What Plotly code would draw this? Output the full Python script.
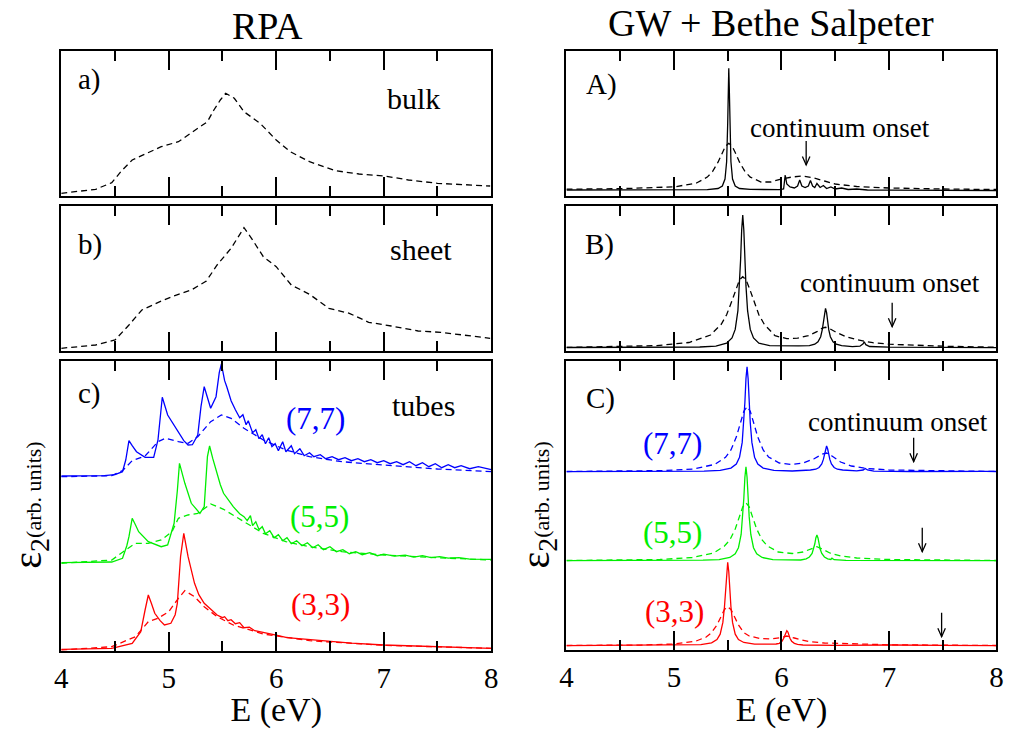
import plotly.graph_objects as go

W, H = 1013, 729
FONT = "Liberation Serif, Times New Roman, Times, DejaVu Serif, serif"
BLUE, GREEN, RED, BLACK = "#0000ff", "#00ee00", "#ff0000", "#000000"

# ---------------- data (E in eV, eps2 in arbitrary units, stacked as drawn) -------------
# RPA bulk (dashed)
bulk_E = [4.0, 4.32, 4.47, 4.56, 4.66, 4.78, 4.93, 5.09, 5.18, 5.36, 5.42, 5.48, 5.53, 5.61, 5.70,
          5.85, 6.00, 6.13, 6.31, 6.55, 6.77, 7.01, 7.23, 7.50, 7.99]
bulk_y = [0.027, 0.067, 0.133, 0.25, 0.36, 0.42, 0.493, 0.543, 0.61, 0.743, 0.86, 0.96, 1.027, 0.977,
          0.843, 0.727, 0.56, 0.443, 0.343, 0.253, 0.22, 0.20, 0.16, 0.127, 0.10]
# RPA sheet (dashed)
sheet_E = [4.0, 4.32, 4.50, 4.63, 4.75, 4.93, 5.09, 5.21, 5.35, 5.45, 5.58, 5.70, 5.77, 5.88, 6.00,
           6.14, 6.31, 6.49, 6.68, 6.86, 7.07, 7.32, 7.53, 7.78, 7.99]
sheet_y = [0.024, 0.057, 0.107, 0.257, 0.407, 0.497, 0.564, 0.607, 0.697, 0.857, 1.024, 1.23, 1.124,
           0.94, 0.84, 0.657, 0.564, 0.424, 0.374, 0.284, 0.247, 0.197, 0.184, 0.15, 0.124]

# RPA tubes, solid = with local fields, dashed = without
t77_E = [4.00, 4.40, 4.50, 4.57, 4.60, 4.63, 4.66, 4.70, 4.78, 4.86, 4.90, 4.94, 4.99, 5.05, 5.09,
         5.14, 5.18, 5.22, 5.27, 5.30, 5.33, 5.36, 5.39, 5.44, 5.47, 5.49, 5.52, 5.54, 5.58, 5.62,
         5.66, 5.69, 5.72, 5.74, 5.78, 5.81, 5.84, 5.87, 5.90, 5.93, 5.96, 5.99, 6.02, 6.06, 6.09,
         6.14, 6.17, 6.22, 6.26, 6.31, 6.35, 6.41, 6.46, 6.52, 6.58, 6.64, 6.70, 6.76, 6.82, 6.88,
         6.94, 7.00, 7.06, 7.12, 7.18, 7.24, 7.30, 7.36, 7.42, 7.48, 7.54, 7.60, 7.66, 7.72, 7.80,
         7.88, 8.00]
t77_y = [1.747, 1.750, 1.760, 1.79, 1.907, 2.10, 2.05, 1.99, 1.934, 1.934, 2.107, 2.534, 2.357, 2.25,
         2.19, 2.10, 2.057, 2.06, 2.157, 2.44, 2.64, 2.52, 2.424, 2.54, 2.78, 2.867, 2.70, 2.64, 2.50,
         2.41, 2.33, 2.36, 2.26, 2.30, 2.18, 2.21, 2.12, 2.16, 2.07, 2.13, 2.04, 2.07, 2.00, 2.09,
         1.99, 2.05, 1.97, 2.02, 1.95, 1.98, 1.94, 1.96, 1.92, 1.94, 1.91, 1.93, 1.90, 1.92, 1.89,
         1.91, 1.88, 1.90, 1.87, 1.89, 1.86, 1.89, 1.85, 1.88, 1.84, 1.87, 1.83, 1.86, 1.83, 1.85,
         1.82, 1.84, 1.81]
t77d_E = [4.0, 4.47, 4.57, 4.66, 4.78, 4.90, 4.97, 5.09, 5.18, 5.27, 5.39, 5.49, 5.58, 5.70, 5.88,
          6.09, 6.31, 6.61, 7.0, 7.5, 8.0]
t77d_y = [1.74, 1.75, 1.80, 1.90, 1.947, 2.09, 2.124, 2.09, 2.074, 2.14, 2.29, 2.357, 2.324, 2.224,
          2.107, 2.007, 1.94, 1.89, 1.857, 1.817, 1.79]

t55_E = [4.0, 4.47, 4.57, 4.61, 4.63, 4.66, 4.69, 4.72, 4.81, 4.93, 4.99, 5.05, 5.08, 5.10, 5.15,
         5.21, 5.29, 5.33, 5.36, 5.38, 5.41, 5.44, 5.48, 5.51, 5.55, 5.58, 5.60, 5.63, 5.66, 5.70,
         5.73, 5.76, 5.78, 5.81, 5.84, 5.87, 5.90, 5.94, 5.98, 6.02, 6.06, 6.10, 6.14, 6.19, 6.24,
         6.29, 6.34, 6.39, 6.44, 6.50, 6.56, 6.62, 6.68, 6.74, 6.80, 6.87, 6.94, 7.00, 7.10, 7.20,
         7.28, 7.36, 7.44, 7.52, 7.60, 7.70, 7.80, 8.00]
t55_y = [0.88, 0.887, 0.924, 1.05, 1.14, 1.324, 1.26, 1.19, 1.09, 1.04, 1.057, 1.274, 1.60, 1.874,
         1.674, 1.474, 1.374, 1.44, 1.94, 2.047, 1.92, 1.807, 1.66, 1.574, 1.52, 1.47, 1.44, 1.40,
         1.37, 1.34, 1.30, 1.35, 1.25, 1.29, 1.21, 1.24, 1.17, 1.20, 1.13, 1.16, 1.10, 1.13, 1.07,
         1.10, 1.05, 1.08, 1.03, 1.06, 1.01, 1.04, 0.99, 1.01, 0.97, 0.99, 0.96, 0.98, 0.95, 0.965,
         0.945, 0.955, 0.935, 0.95, 0.93, 0.94, 0.925, 0.93, 0.915, 0.914]
t55d_E = [4.0, 4.47, 4.60, 4.69, 4.81, 4.93, 5.03, 5.09, 5.18, 5.27, 5.39, 5.51, 5.70, 5.88, 6.09,
          6.31, 6.61, 7.0, 7.5, 8.0]
t55d_y = [0.874, 0.907, 1.007, 1.074, 1.074, 1.107, 1.19, 1.324, 1.357, 1.374, 1.467, 1.414, 1.29,
          1.174, 1.09, 1.04, 0.99, 0.957, 0.93, 0.907]

t33_E = [4.0, 4.47, 4.66, 4.74, 4.78, 4.81, 4.84, 4.87, 4.92, 4.96, 5.02, 5.06, 5.08, 5.11, 5.14,
         5.18, 5.24, 5.28, 5.33, 5.39, 5.45, 5.50, 5.52, 5.55, 5.58, 5.62, 5.66, 5.70, 5.75, 5.80,
         5.88, 5.94, 6.00, 6.10, 6.20, 6.31, 6.50, 6.70, 7.00, 7.50, 8.00]
t33_y = [0.014, 0.024, 0.074, 0.19, 0.407, 0.557, 0.47, 0.374, 0.30, 0.257, 0.274, 0.36, 0.474, 0.94,
         1.174, 0.94, 0.674, 0.56, 0.474, 0.42, 0.357, 0.33, 0.34, 0.30, 0.31, 0.27, 0.28, 0.23, 0.235,
         0.20, 0.185, 0.17, 0.155, 0.13, 0.12, 0.107, 0.09, 0.075, 0.057, 0.04, 0.024]
t33d_E = [4.0, 4.47, 4.69, 4.81, 4.90, 5.0, 5.09, 5.15, 5.24, 5.33, 5.45, 5.6, 5.88, 6.31, 7.0, 8.0]
t33d_y = [0.007, 0.04, 0.14, 0.29, 0.324, 0.39, 0.524, 0.60, 0.54, 0.44, 0.34, 0.257, 0.167, 0.10,
          0.054, 0.024]

# GW + Bethe-Salpeter bulk (A)
A_E = [4.0, 5.0, 5.31, 5.41, 5.45, 5.475, 5.49, 5.50, 5.505, 5.51, 5.515, 5.52, 5.53, 5.545, 5.57,
       5.61, 5.71, 5.98, 6.02, 6.035, 6.05, 6.08, 6.12, 6.15, 6.17, 6.19, 6.22, 6.25, 6.27, 6.29,
       6.31, 6.33, 6.36, 6.39, 6.42, 6.46, 6.5, 6.56, 6.62, 6.7, 6.8, 7.0, 8.0]
A_y = [0.06, 0.062, 0.064, 0.075, 0.10, 0.17, 0.343, 0.726, 1.069, 1.277, 1.069, 0.726, 0.343, 0.17,
       0.10, 0.075, 0.066, 0.064, 0.07, 0.21, 0.12, 0.09, 0.08, 0.10, 0.16, 0.10, 0.085, 0.10, 0.155,
       0.10, 0.085, 0.125, 0.085, 0.105, 0.075, 0.09, 0.07, 0.08, 0.065, 0.07, 0.06, 0.058, 0.055]
Ad_E = [4.0, 4.5, 5.01, 5.21, 5.31, 5.36, 5.41, 5.45, 5.48, 5.51, 5.54, 5.57, 5.61, 5.66, 5.71,
        5.81, 5.9, 6.0, 6.1, 6.2, 6.3, 6.4, 6.5, 6.7, 7.0, 7.5, 8.0]
Ad_y = [0.068, 0.073, 0.092, 0.13, 0.189, 0.246, 0.338, 0.435, 0.50, 0.527, 0.50, 0.435, 0.338,
        0.246, 0.189, 0.14, 0.14, 0.17, 0.19, 0.20, 0.18, 0.15, 0.12, 0.095, 0.08, 0.07, 0.065]

# sheet (B)
B_E = [4.0, 4.8, 5.24, 5.39, 5.49, 5.54, 5.57, 5.595, 5.61, 5.62, 5.63, 5.64, 5.65, 5.66, 5.67,
       5.685, 5.71, 5.74, 5.79, 5.89, 6.04, 6.16, 6.26, 6.31, 6.34, 6.365, 6.38, 6.39, 6.40, 6.41,
       6.42, 6.43, 6.44, 6.455, 6.48, 6.51, 6.56, 6.66, 6.73, 6.76, 6.77, 6.785, 6.82, 7.0, 8.0]
B_y = [0.032, 0.034, 0.037, 0.046, 0.075, 0.127, 0.213, 0.40, 0.648, 0.908, 1.207, 1.357, 1.207,
       0.908, 0.648, 0.40, 0.213, 0.127, 0.075, 0.05, 0.045, 0.048, 0.05, 0.065, 0.09, 0.14, 0.21,
       0.29, 0.38, 0.424, 0.38, 0.29, 0.21, 0.14, 0.09, 0.065, 0.05, 0.04, 0.045, 0.07, 0.09, 0.06,
       0.042, 0.035, 0.03]
Bd_E = [4.0, 4.44, 4.84, 5.14, 5.34, 5.44, 5.49, 5.54, 5.58, 5.61, 5.64, 5.67, 5.70, 5.74, 5.79,
        5.84, 5.94, 6.05, 6.15, 6.25, 6.33, 6.38, 6.41, 6.45, 6.5, 6.6, 6.7, 6.85, 7.0, 7.5, 8.0]
Bd_y = [0.033, 0.04, 0.051, 0.082, 0.157, 0.264, 0.36, 0.50, 0.63, 0.709, 0.74, 0.709, 0.63, 0.50,
        0.36, 0.264, 0.15, 0.12, 0.125, 0.15, 0.19, 0.225, 0.234, 0.22, 0.19, 0.14, 0.11, 0.08,
        0.065, 0.045, 0.035]

# tubes (C)
C77_E = [4.0, 5.0, 5.28, 5.43, 5.53, 5.58, 5.61, 5.635, 5.65, 5.66, 5.67, 5.68, 5.69, 5.70, 5.71,
         5.725, 5.75, 5.78, 5.83, 5.93, 6.1, 6.27, 6.32, 6.35, 6.375, 6.39, 6.40, 6.41, 6.42, 6.43,
         6.44, 6.45, 6.465, 6.49, 6.52, 6.57, 6.7, 6.76, 6.78, 6.80, 6.86, 7.2, 7.9, 8.0]
C77_y = [1.783, 1.785, 1.788, 1.796, 1.819, 1.86, 1.928, 2.076, 2.272, 2.478, 2.714, 2.833, 2.714,
         2.478, 2.272, 2.076, 1.928, 1.86, 1.819, 1.796, 1.79, 1.80, 1.808, 1.825, 1.86, 1.906,
         1.955, 2.01, 2.04, 2.01, 1.955, 1.906, 1.86, 1.825, 1.808, 1.80, 1.792, 1.80, 1.815, 1.80,
         1.788, 1.785, 1.787, 1.785]
C77d_E = [4.0, 4.88, 5.18, 5.38, 5.48, 5.53, 5.58, 5.62, 5.65, 5.68, 5.71, 5.74, 5.78, 5.83, 5.88,
          5.98, 6.1, 6.2, 6.3, 6.38, 6.42, 6.47, 6.55, 6.65, 6.8, 7.0, 7.5, 8.0]
C77d_y = [1.785, 1.794, 1.81, 1.856, 1.927, 2.0, 2.129, 2.277, 2.386, 2.433, 2.386, 2.277, 2.129,
          2.0, 1.93, 1.87, 1.855, 1.87, 1.91, 1.96, 1.97, 1.94, 1.88, 1.84, 1.815, 1.80, 1.79, 1.785]

C55_E = [4.0, 5.0, 5.27, 5.42, 5.52, 5.57, 5.60, 5.625, 5.64, 5.65, 5.66, 5.67, 5.68, 5.69, 5.70,
         5.715, 5.74, 5.77, 5.82, 5.92, 6.1, 6.18, 6.23, 6.26, 6.285, 6.30, 6.31, 6.32, 6.33, 6.34,
         6.35, 6.36, 6.375, 6.40, 6.43, 6.46, 6.47, 6.49, 6.6, 8.0]
C55_y = [0.893, 0.895, 0.898, 0.904, 0.925, 0.962, 1.023, 1.155, 1.331, 1.515, 1.727, 1.833, 1.727,
         1.515, 1.331, 1.155, 1.023, 0.962, 0.925, 0.904, 0.898, 0.90, 0.912, 0.93, 0.965, 1.01,
         1.06, 1.12, 1.15, 1.12, 1.06, 1.01, 0.965, 0.93, 0.912, 0.905, 0.918, 0.903, 0.897, 0.893]
C55d_E = [4.0, 4.87, 5.17, 5.37, 5.47, 5.52, 5.57, 5.61, 5.64, 5.67, 5.70, 5.73, 5.77, 5.82, 5.87,
          5.97, 6.1, 6.2, 6.28, 6.33, 6.38, 6.45, 6.55, 6.7, 7.0, 7.5, 8.0]
C55d_y = [0.895, 0.905, 0.925, 0.97, 1.04, 1.10, 1.21, 1.334, 1.431, 1.473, 1.431, 1.334, 1.21,
          1.10, 1.04, 0.98, 0.965, 0.98, 1.01, 1.033, 1.01, 0.97, 0.94, 0.92, 0.905, 0.897, 0.895]

C33_E = [4.0, 5.1, 5.25, 5.35, 5.40, 5.43, 5.455, 5.47, 5.48, 5.49, 5.50, 5.51, 5.52, 5.53, 5.545,
         5.57, 5.60, 5.65, 5.75, 5.9, 5.95, 5.98, 6.005, 6.02, 6.03, 6.04, 6.05, 6.06, 6.07, 6.08,
         6.095, 6.12, 6.15, 6.2, 6.5, 6.9, 6.98, 7.02, 7.5, 8.0]
C33_y = [0.043, 0.047, 0.053, 0.071, 0.104, 0.158, 0.276, 0.432, 0.595, 0.783, 0.877, 0.783, 0.595,
         0.432, 0.276, 0.158, 0.104, 0.075, 0.058, 0.056, 0.06, 0.067, 0.088, 0.115, 0.145, 0.18,
         0.193, 0.18, 0.145, 0.115, 0.088, 0.067, 0.056, 0.05, 0.046, 0.047, 0.053, 0.05, 0.046,
         0.044]
C33d_E = [4.0, 4.7, 5.0, 5.2, 5.3, 5.35, 5.40, 5.44, 5.47, 5.50, 5.53, 5.56, 5.60, 5.65, 5.70, 5.8,
          5.9, 6.0, 6.05, 6.12, 6.25, 6.4, 6.7, 7.0, 8.0]
C33d_y = [0.045, 0.05, 0.06, 0.087, 0.13, 0.174, 0.25, 0.34, 0.405, 0.433, 0.405, 0.34, 0.25, 0.174,
          0.14, 0.115, 0.11, 0.125, 0.14, 0.12, 0.085, 0.07, 0.058, 0.052, 0.045]

# continuum onsets (energy, eps2 level of the arrow tip) for panels A, B, C(7,7), C(5,5), C(3,3)
onset_E = [6.23, 7.03, 7.23, 7.31, 7.49]
onset_tip = [0.31, 0.24, 1.883, 0.983, 0.133]
onset_panel = ["A", "B", "C", "C", "C"]

tick_vals = [4, 5, 6, 7, 8]
tick_text = ["4", "5", "6", "7", "8"]

# ---------------- layout helpers (pixel boxes) ----------------
def fx(x):
    return x / W

def fy(y):
    return 1 - y / H

boxes = {  # name: (x0, x1, ytop, ybottom) in px
    "a": (55, 491, 51, 196), "b": (55, 491, 206, 350.7), "c": (55, 491, 361, 650.7),
    "A": (567.3, 1003.3, 51, 196), "B": (567.3, 1003.3, 206, 350.7), "C": (567.3, 1003.3, 361, 650),
}
order = ["a", "b", "c", "A", "B", "C"]
axid = {k: i + 1 for i, k in enumerate(order)}

fig = go.Figure()

def add(panel, xs, ys, color, dashed):
    n = axid[panel]
    fig.add_trace(go.Scatter(
        x=xs, y=ys, mode="lines", showlegend=False, hoverinfo="skip",
        line=dict(color=color, width=1.3, dash="6px,4px" if dashed else "solid"),
        xaxis="x" if n == 1 else f"x{n}", yaxis="y" if n == 1 else f"y{n}"))

add("a", bulk_E, bulk_y, BLACK, True)
add("b", sheet_E, sheet_y, BLACK, True)
add("c", t77d_E, t77d_y, BLUE, True)
add("c", t77_E, t77_y, BLUE, False)
add("c", t55d_E, t55d_y, GREEN, True)
add("c", t55_E, t55_y, GREEN, False)
add("c", t33d_E, t33d_y, RED, True)
add("c", t33_E, t33_y, RED, False)
add("A", Ad_E, Ad_y, BLACK, True)
add("A", A_E, A_y, BLACK, False)
add("B", Bd_E, Bd_y, BLACK, True)
add("B", B_E, B_y, BLACK, False)
add("C", C77d_E, C77d_y, BLUE, True)
add("C", C77_E, C77_y, BLUE, False)
add("C", C55d_E, C55d_y, GREEN, True)
add("C", C55_E, C55_y, GREEN, False)
add("C", C33d_E, C33d_y, RED, True)
add("C", C33_E, C33_y, RED, False)

layout = dict(width=W, height=H, margin=dict(l=0, r=0, t=0, b=0),
              paper_bgcolor="white", plot_bgcolor="white",
              font=dict(family=FONT, color="black"))
for k in order:
    n = axid[k]
    x0, x1, yt, yb = boxes[k]
    sfx = "" if n == 1 else str(n)
    bottom = k in ("c", "C")
    layout[f"xaxis{sfx}"] = dict(
        domain=[fx(x0), fx(x1)], range=[4, 8], anchor=f"y{sfx}",
        showline=True, linewidth=2, linecolor="black", mirror="allticks",
        ticks="inside", ticklen=19, tickwidth=1.5, tickcolor="black",
        tickvals=tick_vals, ticktext=tick_text, showticklabels=bottom,
        tickfont=dict(family=FONT, size=29, color="black"),
        minor=dict(ticks="inside", ticklen=10, tickwidth=1.5, tickcolor="black", dtick=0.5,
                   tick0=4, showgrid=False),
        showgrid=False, zeroline=False, fixedrange=True,
        title=dict(text="E (eV)", font=dict(family=FONT, size=34), standoff=5) if bottom else None,
    )
    layout[f"yaxis{sfx}"] = dict(
        domain=[fy(yb), fy(yt)], range=[0, (yb - yt) / 100.0], anchor=f"x{sfx}",
        showline=True, linewidth=2, linecolor="black", mirror=True,
        ticks="", showticklabels=False, showgrid=False, zeroline=False, fixedrange=True,
    )
fig.update_layout(**layout)

# ---------------- arrows (continuum onsets) ----------------
shapes = []
for E, tip, p in zip(onset_E, onset_tip, onset_panel):
    n = axid[p]
    xr, yr = f"x{n}", f"y{n}"
    shapes.append(dict(type="line", xref=xr, yref=yr, x0=E, x1=E, y0=tip, y1=tip + 0.24,
                       line=dict(color="black", width=1.3)))
    shapes.append(dict(type="path", xref=xr, yref=yr,
                       path=f"M {E - 0.035},{tip + 0.085} L {E},{tip} L {E + 0.035},{tip + 0.085}",
                       line=dict(color="black", width=1.3)))
fig.update_layout(shapes=shapes)

# ---------------- text ----------------
def label(text, x, y, size, color="black", angle=0):
    fig.add_annotation(text=text, x=fx(x), y=fy(y), xref="paper", yref="paper",
                       xanchor="center", yanchor="middle", showarrow=False, textangle=angle,
                       font=dict(family=FONT, size=size, color=color))

label("RPA", 264, 26, 38)
label("GW + Bethe Salpeter", 775, 23, 38)
label("a)", 84, 79, 29)
label("b)", 84, 244, 29)
label("c)", 84, 394, 29)
label("A)", 603, 84, 29)
label("B)", 601, 244, 29)
label("C)", 602, 399, 29)
label("bulk", 412, 99, 30)
label("sheet", 420, 249, 30)
label("tubes", 422, 405, 30)
label("(7,7)", 313, 418, 31, BLUE)
label("(5,5)", 317, 516, 31, GREEN)
label("(3,3)", 318, 604, 31, RED)
label("(7,7)", 675, 443, 31, BLUE)
label("(5,5)", 675, 532, 31, GREEN)
label("(3,3)", 677, 611, 31, RED)
label("continuum onset", 845, 128, 27)
label("continuum onset", 895, 283, 27)
label("continuum onset", 903, 422, 27)
ylab = "ε<sub>2</sub><span style='font-size:22px'>(arb. units)</span>"
label(ylab, 23, 505, 40, angle=-90)
label(ylab, 538, 505, 40, angle=-90)

fig.write_html("out.html", config={"displayModeBar": False},
               post_script="document.body.style.margin='0px';document.body.style.overflow='hidden';")
